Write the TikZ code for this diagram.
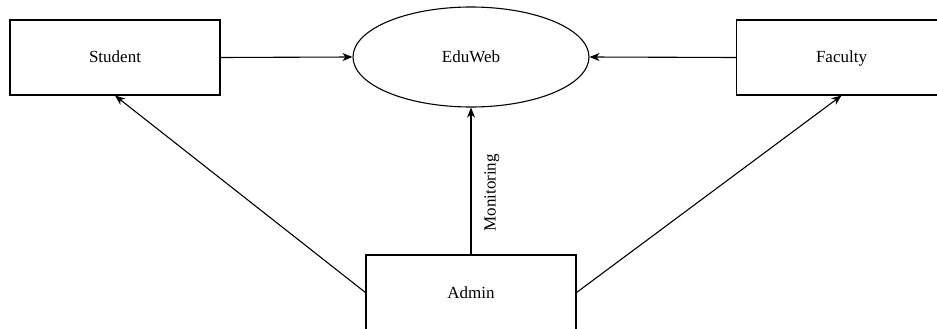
\documentclass[tikz,border=0pt]{standalone}
\usepackage{fontspec}
\setmainfont{Liberation Serif}
\usetikzlibrary{arrows.meta,shapes.geometric}
\begin{document}
\begin{tikzpicture}[x=1pt,y=-1pt,
  lbl/.style={font=\fontsize{17}{20}\selectfont,text height=13pt,text depth=2pt},
  box/.style={draw,line width=1.1pt,minimum width=210pt,minimum height=75pt,inner sep=0pt,lbl},
  oval/.style={draw,ellipse,line width=1.1pt,minimum width=236pt,minimum height=100pt,inner sep=0pt,lbl},
  conn/.style={line width=1.1pt,-{Stealth[length=10pt,width=8pt,inset=3pt]}}]
\useasboundingbox (0,0) rectangle (937,329);
\clip (0,0) rectangle (937,329);
\node[box] (student) at (115,57.5) {Student};
\node[oval] (eduweb) at (471,57) {EduWeb};
\node[box] (faculty) at (841.5,57.5) {Faculty};
\node[box] (admin) at (471,292.5) {Admin};
\draw[conn] (student.east) -- (eduweb.west);
\draw[conn] (faculty.west) -- (eduweb.east);
\draw[conn] (admin.north) -- node[pos=0.42,xshift=19pt,rotate=90,lbl] {Monitoring} (eduweb.south);
\draw[conn] (admin.west) -- (student.south);
\draw[conn] (admin.east) -- (faculty.south);
\end{tikzpicture}
\end{document}
